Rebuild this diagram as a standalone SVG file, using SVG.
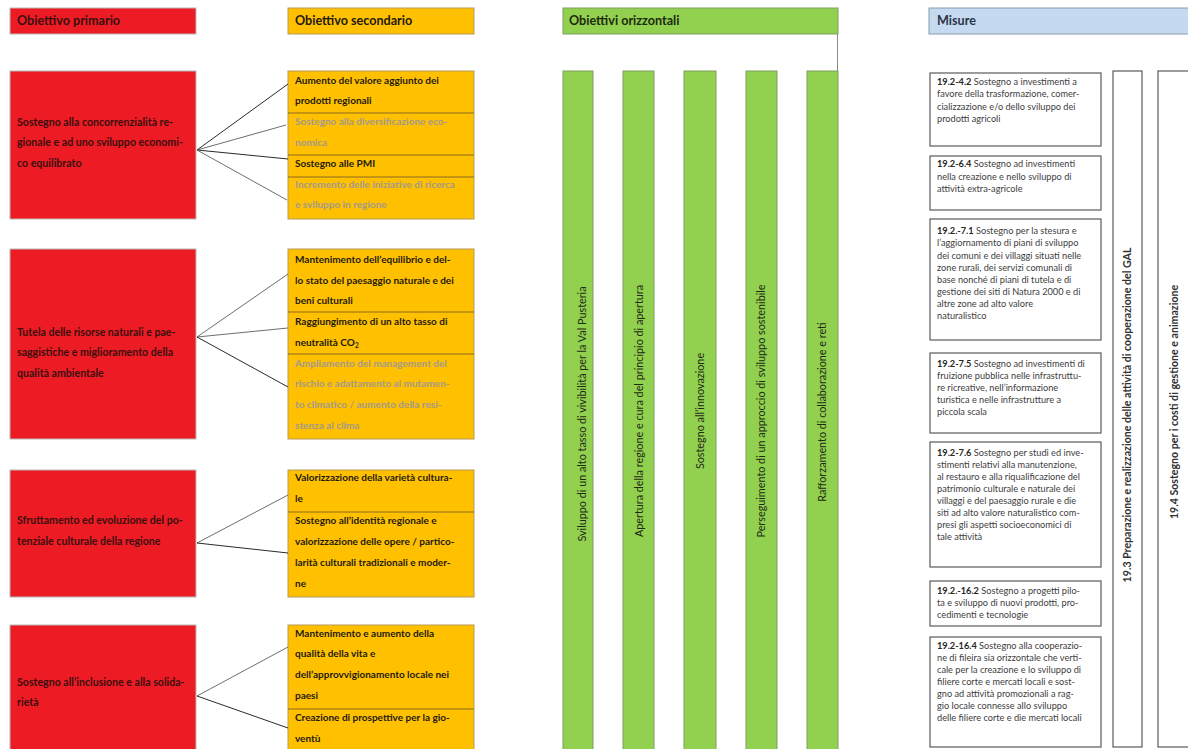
<svg xmlns="http://www.w3.org/2000/svg" width="1188" height="749" viewBox="0 0 1188 749">
<style>
  text { font-family: Lato, "Liberation Sans", sans-serif; }
  .hdr { font-size: 12.6px; font-weight: bold; }
  .red { fill: #ed1c24; stroke: #b8b8b8; stroke-width: 1; }
  .org { fill: #ffc000; stroke: #b89a5a; stroke-width: 1; }
  .grn { fill: #92d050; stroke: #7f9f5f; stroke-width: 1; }
  .div { stroke: #8a6a20; stroke-width: 1; }
  .rt { font-size: 10.6px; font-weight: bold; fill: #3a0f0f; }
  .ot { font-size: 10px; font-weight: bold; fill: #1e1a10; }
  .og { font-size: 10px; font-weight: bold; fill: #a39a8c; }
  .gt { font-size: 10.8px; fill: #1f2a14; }
  .mbox { fill: #ffffff; stroke: #5a5a5a; stroke-width: 1.2; }
  .mt { font-size: 9.2px; fill: #404040; }
  .mt tspan.n { font-weight: bold; fill: #262626; }
  .vt { font-size: 10.6px; font-weight: bold; fill: #333333; }
  .c1 { stroke: #2a2a2a; stroke-width: 1; fill: none; }
  .c2 { stroke: #6e6e6e; stroke-width: 1; fill: none; }
</style>

<g id="headers">
  <g id="hdr-primario">
    <rect x="10" y="8" width="186" height="26" class="red"/>
    <text x="17" y="25" class="hdr" fill="#3a0f0f">Obiettivo primario</text>
  </g>
  <g id="hdr-secondario">
    <rect x="288" y="8" width="186" height="26" class="org"/>
    <text x="295" y="25" class="hdr" fill="#1e1a10">Obiettivo secondario</text>
  </g>
  <g id="hdr-orizzontali">
    <rect x="563" y="8" width="275" height="26" class="grn"/>
    <line x1="837.5" y1="34" x2="837.5" y2="71" stroke="#8a8a8a" stroke-width="1"/>
    <text x="569" y="25" class="hdr" fill="#1c2a10">Obiettivi orizzontali</text>
  </g>
  <g id="hdr-misure">
    <rect x="929" y="8" width="265" height="26" fill="#c5d9f1" stroke="#8a9aaa" stroke-width="1"/>
    <text x="937" y="25" class="hdr" fill="#2a3646">Misure</text>
  </g>
</g>

<g id="primary-1">
  <rect x="10" y="71" width="186" height="148" class="red"/>
  <text class="rt"><tspan x="17" y="126">Sostegno alla concorrenzialità re-</tspan><tspan x="17" y="146">gionale e ad uno sviluppo economi-</tspan><tspan x="17" y="167">co equilibrato</tspan></text>
</g>
<g id="primary-2">
  <rect x="10" y="249" width="186" height="190" class="red"/>
  <text class="rt"><tspan x="17" y="336">Tutela delle risorse naturali e pae-</tspan><tspan x="17" y="356">saggistiche e miglioramento della</tspan><tspan x="17" y="377">qualità ambientale</tspan></text>
</g>
<g id="primary-3">
  <rect x="10" y="470" width="186" height="127" class="red"/>
  <text class="rt"><tspan x="17" y="524">Sfruttamento ed evoluzione del po-</tspan><tspan x="17" y="545">tenziale culturale della regione</tspan></text>
</g>
<g id="primary-4">
  <rect x="10" y="625" width="186" height="140" class="red"/>
  <text class="rt"><tspan x="17" y="686">Sostegno all’inclusione e alla solida-</tspan><tspan x="17" y="706">rietà</tspan></text>
</g>

<g id="secondary-1">
  <rect x="288" y="71" width="186" height="148" class="org"/>
  <line x1="288" y1="113" x2="474" y2="113" class="div"/>
  <line x1="288" y1="155" x2="474" y2="155" class="div"/>
  <line x1="288" y1="177" x2="474" y2="177" class="div"/>
  <text class="ot"><tspan x="295" y="84">Aumento del valore aggiunto dei</tspan><tspan x="295" y="104">prodotti regionali</tspan></text>
  <text class="og"><tspan x="295" y="125">Sostegno alla diversificazione eco-</tspan><tspan x="295" y="146">nomica</tspan></text>
  <text class="ot"><tspan x="295" y="167">Sostegno alle PMI</tspan></text>
  <text class="og"><tspan x="295" y="188">Incremento delle iniziative di ricerca</tspan><tspan x="295" y="208">e sviluppo in regione</tspan></text>
</g>
<g id="secondary-2">
  <rect x="288" y="249" width="186" height="190" class="org"/>
  <line x1="288" y1="312" x2="474" y2="312" class="div"/>
  <line x1="288" y1="354" x2="474" y2="354" class="div"/>
  <text class="ot"><tspan x="295" y="263">Mantenimento dell’equilibrio e del-</tspan><tspan x="295" y="284">lo stato del paesaggio naturale e dei</tspan><tspan x="295" y="304">beni culturali</tspan></text>
  <text class="ot"><tspan x="295" y="325">Raggiungimento di un alto tasso di</tspan><tspan x="295" y="346">neutralità CO<tspan font-size="6.5px" dy="2">2</tspan></tspan></text>
  <text class="og"><tspan x="295" y="367">Ampliamento del management del</tspan><tspan x="295" y="387">rischio e adattamento al mutamen-</tspan><tspan x="295" y="408">to climatico / aumento della resi-</tspan><tspan x="295" y="429">stenza al clima</tspan></text>
</g>
<g id="secondary-3">
  <rect x="288" y="470" width="186" height="127" class="org"/>
  <line x1="288" y1="512" x2="474" y2="512" class="div"/>
  <text class="ot"><tspan x="295" y="481">Valorizzazione della varietà cultura-</tspan><tspan x="295" y="502">le</tspan></text>
  <text class="ot"><tspan x="295" y="524">Sostegno all’identità regionale e</tspan><tspan x="295" y="545">valorizzazione delle opere / partico-</tspan><tspan x="295" y="566">larità culturali tradizionali e moder-</tspan><tspan x="295" y="587">ne</tspan></text>
</g>
<g id="secondary-4">
  <rect x="288" y="625" width="186" height="140" class="org"/>
  <line x1="288" y1="709" x2="474" y2="709" class="div"/>
  <text class="ot"><tspan x="295" y="637">Mantenimento e aumento della</tspan><tspan x="295" y="657">qualità della vita e</tspan><tspan x="295" y="678">dell’approvvigionamento locale nei</tspan><tspan x="295" y="699">paesi</tspan></text>
  <text class="ot"><tspan x="295" y="721">Creazione di prospettive per la gio-</tspan><tspan x="295" y="742">ventù</tspan></text>
</g>

<g id="connectors">
  <line x1="197" y1="150" x2="288" y2="84" class="c1"/>
  <line x1="197" y1="150" x2="286" y2="125" class="c2"/>
  <line x1="197" y1="150" x2="288" y2="159" class="c1"/>
  <line x1="197" y1="150" x2="287" y2="200" class="c2"/>
  <line x1="197" y1="337" x2="288" y2="274" class="c2"/>
  <line x1="197" y1="337" x2="288" y2="328" class="c2"/>
  <line x1="197" y1="337" x2="288" y2="387" class="c1"/>
  <line x1="197" y1="543" x2="288" y2="495" class="c2"/>
  <line x1="197" y1="543" x2="288" y2="553" class="c1"/>
  <line x1="197" y1="696" x2="288" y2="647" class="c2"/>
  <line x1="197" y1="696" x2="288" y2="728" class="c1"/>
</g>

<g id="horizontal-1">
  <rect x="563" y="71" width="30" height="690" class="grn"/>
  <text class="gt" text-anchor="middle" transform="translate(586,414) rotate(-90)">Sviluppo di un alto tasso di vivibilità per la Val Pusteria</text>
</g>
<g id="horizontal-2">
  <rect x="623" y="71" width="31" height="690" class="grn"/>
  <text class="gt" text-anchor="middle" transform="translate(643,411) rotate(-90)">Apertura della regione e cura del principio di apertura</text>
</g>
<g id="horizontal-3">
  <rect x="684" y="71" width="32" height="690" class="grn"/>
  <text class="gt" text-anchor="middle" transform="translate(704,411) rotate(-90)">Sostegno all’innovazione</text>
</g>
<g id="horizontal-4">
  <rect x="746" y="71" width="31" height="690" class="grn"/>
  <text class="gt" text-anchor="middle" transform="translate(765,411) rotate(-90)">Perseguimento di un approccio di sviluppo sostenibile</text>
</g>
<g id="horizontal-5">
  <rect x="807" y="71" width="31" height="690" class="grn"/>
  <text class="gt" text-anchor="middle" transform="translate(826,412) rotate(-90)">Rafforzamento di collaborazione e reti</text>
</g>

<g id="measure-4-2">
  <rect x="930" y="73" width="171" height="73" class="mbox"/>
  <text class="mt"><tspan x="937" y="85"><tspan class="n">19.2-4.2</tspan> Sostegno a investimenti a</tspan><tspan x="937" y="97">favore della trasformazione, comer-</tspan><tspan x="937" y="110">cializzazione e/o dello sviluppo dei</tspan><tspan x="937" y="122">prodotti agricoli</tspan></text>
</g>
<g id="measure-6-4">
  <rect x="930" y="156" width="171" height="54" class="mbox"/>
  <text class="mt"><tspan x="937" y="167"><tspan class="n">19.2-6.4</tspan> Sostegno ad investimenti</tspan><tspan x="937" y="180">nella creazione e nello sviluppo di</tspan><tspan x="937" y="192">attività extra-agricole</tspan></text>
</g>
<g id="measure-7-1">
  <rect x="930" y="219" width="171" height="121" class="mbox"/>
  <text class="mt"><tspan x="937" y="234"><tspan class="n">19.2.-7.1</tspan> Sostegno per la stesura e</tspan><tspan x="937" y="246">l’aggiornamento di piani di sviluppo</tspan><tspan x="937" y="259">dei comuni e dei villaggi situati nelle</tspan><tspan x="937" y="271">zone rurali, dei servizi comunali di</tspan><tspan x="937" y="283">base nonché di piani di tutela e di</tspan><tspan x="937" y="295">gestione dei siti di Natura 2000 e di</tspan><tspan x="937" y="307">altre zone ad alto valore</tspan><tspan x="937" y="319">naturalistico</tspan></text>
</g>
<g id="measure-7-5">
  <rect x="930" y="353" width="171" height="80" class="mbox"/>
  <text class="mt"><tspan x="937" y="367"><tspan class="n">19.2-7.5</tspan> Sostegno ad investimenti di</tspan><tspan x="937" y="379">fruizione pubblica nelle infrastruttu-</tspan><tspan x="937" y="391">re ricreative, nell’informazione</tspan><tspan x="937" y="403">turistica e nelle infrastrutture a</tspan><tspan x="937" y="415">piccola scala</tspan></text>
</g>
<g id="measure-7-6">
  <rect x="930" y="442" width="171" height="125" class="mbox"/>
  <text class="mt"><tspan x="937" y="456"><tspan class="n">19.2-7.6</tspan> Sostegno per studi ed inve-</tspan><tspan x="937" y="468">stimenti relativi alla manutenzione,</tspan><tspan x="937" y="480">al restauro e alla riqualificazione del</tspan><tspan x="937" y="492">patrimonio culturale e naturale dei</tspan><tspan x="937" y="504">villaggi e del paesaggio rurale e die</tspan><tspan x="937" y="516">siti ad alto valore naturalistico com-</tspan><tspan x="937" y="528">presi gli aspetti socioeconomici di</tspan><tspan x="937" y="540">tale attività</tspan></text>
</g>
<g id="measure-16-2">
  <rect x="930" y="581" width="171" height="45" class="mbox"/>
  <text class="mt"><tspan x="937" y="594"><tspan class="n">19.2.-16.2</tspan> Sostegno a progetti pilo-</tspan><tspan x="937" y="606">ta e sviluppo di nuovi prodotti, pro-</tspan><tspan x="937" y="618">cedimenti e tecnologie</tspan></text>
</g>
<g id="measure-16-4">
  <rect x="930" y="637" width="171" height="110" class="mbox"/>
  <text class="mt"><tspan x="937" y="649"><tspan class="n">19.2-16.4</tspan> Sostegno alla cooperazio-</tspan><tspan x="937" y="661">ne di fileira sia orizzontale che verti-</tspan><tspan x="937" y="673">cale per la creazione e lo sviluppo di</tspan><tspan x="937" y="685">filiere corte e mercati locali e sost-</tspan><tspan x="937" y="697">gno ad attività promozionali a rag-</tspan><tspan x="937" y="709">gio locale connesse allo sviluppo</tspan><tspan x="937" y="721">delle filiere corte e die mercati locali</tspan></text>
</g>
<g id="measure-19-3">
  <rect x="1113" y="71" width="29" height="676" class="mbox"/>
  <text class="vt" text-anchor="middle" transform="translate(1131,415) rotate(-90)">19.3 Preparazione e realizzazione delle attività di cooperazione del GAL</text>
</g>
<g id="measure-19-4">
  <rect x="1158" y="71" width="40" height="676" class="mbox"/>
  <text class="vt" text-anchor="middle" transform="translate(1178,402) rotate(-90)">19.4 Sostegno per i costi di gestione e animazione</text>
</g>
</svg>
